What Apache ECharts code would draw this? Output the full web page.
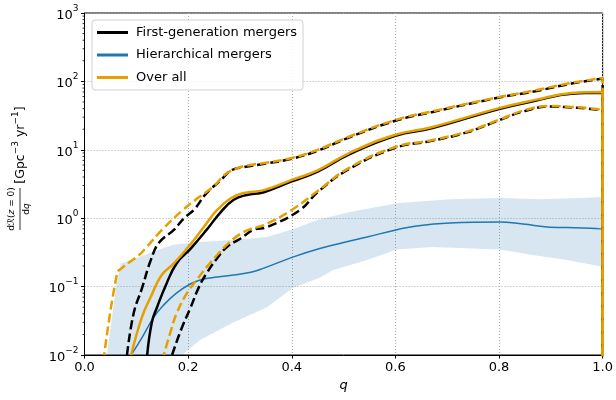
<!DOCTYPE html>
<html>
<head>
<meta charset="utf-8">
<script src="https://cdn.jsdelivr.net/npm/echarts@6/dist/echarts.min.js"></script>
<style>
  html, body { margin: 0; padding: 0; background: #fff; }
  #chart { width: 616px; height: 400px; }
</style>
</head>
<body>
<div id="chart"></div>
<script>
// Merger rate density per unit mass ratio q, dR(z=0)/dq in Gpc^-3 yr^-1.
// Each population: median curve plus 90% credible bounds.

// Rate drops to zero beyond q = 1 (below the log range).
const RATE_FLOOR = 1e-4;

// Over all: upper bound
const qOverallUpper = [0.038, 0.063, 0.072, 0.085, 0.105, 0.12, 0.15, 0.19, 0.22, 0.25, 0.27, 0.295, 0.32, 0.35, 0.40, 0.45, 0.51, 0.60, 0.67, 0.80, 0.87, 0.94, 1.0];
const overallUpper  = [0.010, 0.158, 0.186, 0.224, 0.288, 0.38, 0.68, 1.32, 2.0, 2.95, 4.27, 5.4, 6.0, 6.45, 7.6, 10.0, 15.5, 27.3, 36.3, 59, 74, 95, 112];

// Over all: median
const qOverallMedian = [0.090, 0.111, 0.128, 0.149, 0.173, 0.205, 0.230, 0.256, 0.283, 0.308, 0.346, 0.40, 0.45, 0.51, 0.60, 0.67, 0.80, 0.87, 0.94, 1.0];
const overallMedian  = [0.010, 0.036, 0.071, 0.148, 0.22, 0.42, 0.74, 1.32, 1.97, 2.34, 2.57, 3.63, 5.0, 8.9, 16.6, 21.4, 40.7, 53.7, 67.6, 70];

// Over all: lower bound
const qOverallLower = [0.153, 0.167, 0.178, 0.198, 0.217, 0.236, 0.256, 0.275, 0.298, 0.321, 0.346, 0.40, 0.45, 0.51, 0.60, 0.67, 0.74, 0.80, 0.85, 0.90, 0.94, 0.97, 1.0];
const overallLower  = [0.010, 0.023, 0.041, 0.081, 0.126, 0.194, 0.29, 0.41, 0.57, 0.70, 0.79, 1.32, 2.5, 5.4, 11.0, 13.8, 18.6, 27.5, 38, 43.7, 42.3, 40.7, 35.5];

// First-generation: upper bound
const qFirstUpper = [0.082, 0.095, 0.111, 0.128, 0.144, 0.173, 0.192, 0.211, 0.236, 0.263, 0.283, 0.308, 0.35, 0.40, 0.45, 0.51, 0.60, 0.67, 0.80, 0.87, 0.94, 1.0];
const firstUpper  = [0.010, 0.041, 0.095, 0.245, 0.44, 0.68, 1.0, 1.32, 2.35, 3.6, 5.0, 5.6, 6.3, 7.4, 9.7, 15.1, 26.6, 35.5, 58, 72, 93, 110];

// First-generation: median
const qFirstMedian = [0.121, 0.130, 0.140, 0.157, 0.178, 0.205, 0.236, 0.263, 0.288, 0.313, 0.346, 0.40, 0.45, 0.51, 0.60, 0.67, 0.80, 0.87, 0.94, 1.0];
const firstMedian  = [0.010, 0.030, 0.050, 0.105, 0.22, 0.36, 0.68, 1.23, 1.86, 2.19, 2.40, 3.45, 4.8, 8.5, 16.0, 20.6, 39.5, 52, 66, 68];

// First-generation: lower bound
const qFirstLower = [0.169, 0.186, 0.205, 0.221, 0.236, 0.256, 0.275, 0.302, 0.327, 0.352, 0.416, 0.45, 0.51, 0.60, 0.67, 0.74, 0.80, 0.85, 0.90, 0.94, 0.97, 1.0];
const firstLower  = [0.010, 0.023, 0.050, 0.099, 0.158, 0.26, 0.38, 0.51, 0.68, 0.74, 1.32, 2.4, 5.2, 10.7, 13.5, 18.2, 27, 37, 43, 41.5, 40, 35];

// Hierarchical: median
const qHierMedian = [0.090, 0.111, 0.134, 0.153, 0.178, 0.205, 0.225, 0.256, 0.288, 0.321, 0.346, 0.402, 0.454, 0.500, 0.545, 0.603, 0.641, 0.705, 0.801, 0.846, 0.898, 0.961, 1.0];
const hierMedian  = [0.010, 0.018, 0.036, 0.054, 0.081, 0.110, 0.126, 0.138, 0.148, 0.162, 0.186, 0.27, 0.36, 0.44, 0.53, 0.68, 0.77, 0.85, 0.88, 0.82, 0.74, 0.72, 0.68];

// Hierarchical: 90% band edges
const qHierUpper = [0.043, 0.061, 0.070, 0.082, 0.126, 0.171, 0.223, 0.286, 0.352, 0.402, 0.448, 0.512, 0.603, 0.705, 0.801, 0.878, 0.961, 1.0];
const hierUpper  = [0.010, 0.10, 0.22, 0.23, 0.31, 0.41, 0.45, 0.48, 0.53, 0.69, 0.93, 1.23, 1.66, 1.9, 1.97, 1.9, 1.97, 2.04];
const qHierLower = [0.043, 0.188, 0.223, 0.286, 0.352, 0.402, 0.454, 0.479, 0.545, 0.603, 0.672, 0.801, 0.865, 0.931, 1.0];
const hierLower  = [0.010, 0.010, 0.0166, 0.0295, 0.050, 0.095, 0.135, 0.174, 0.245, 0.35, 0.38, 0.35, 0.29, 0.245, 0.195];

// Axis ticks
const xTicks = [0, 0.2, 0.4, 0.6, 0.8, 1.0];
const yDecades = [-2, -1, 0, 1, 2, 3];

const legendNames = ['First-generation mergers', 'Hierarchical mergers', 'Over all'];

const BLACK = '#000000';
const BLUE = '#1f77b4';
const ORANGE = '#E69F00';
const FONT = 'DejaVu Sans';

function pairs(qs, vs, drop) {
  const out = qs.map((q, i) => [q, vs[i]]);
  if (drop) out.push([1.0, RATE_FLOOR]);
  return out;
}

// Minor log ticks: 2..9 times each decade
const minorTickValues = [];
for (let k = yDecades[0]; k < yDecades[yDecades.length - 1]; k++) {
  for (let m = 2; m <= 9; m++) minorTickValues.push([0, m * Math.pow(10, k)]);
}

const supMinus = (e) => (e < 0 ? '\u2212' + (-e) : String(e));

const lineBase = { type: 'line', showSymbol: false, symbol: 'none', smooth: 0.45, clip: true, silent: true };
const DASH = [9, 4];

const chart = echarts.init(document.getElementById('chart'), null, { renderer: 'canvas' });

const option = {
  animation: false,
  backgroundColor: '#fff',
  textStyle: { fontFamily: FONT },
  grid: { left: 84.5, right: 13, top: 13, bottom: 45, show: true, borderColor: '#000', borderWidth: 1, backgroundColor: 'transparent' },
  legend: {
    orient: 'vertical',
    left: 92, top: 20,
    z: 20,
    padding: [5, 6, 5, 5],
    itemWidth: 31, itemHeight: 3, itemGap: 7.5,
    backgroundColor: 'rgba(255,255,255,0.85)',
    borderColor: '#d0d0d0', borderWidth: 1, borderRadius: 3,
    selectedMode: false,
    textStyle: { fontFamily: FONT, fontSize: 13, color: '#000', lineHeight: 15, padding: [0, 0, 0, 3] },
    data: [
      { name: legendNames[0], icon: 'rect', itemStyle: { color: BLACK } },
      { name: legendNames[1], icon: 'rect', itemStyle: { color: BLUE } },
      { name: legendNames[2], icon: 'rect', itemStyle: { color: ORANGE } }
    ]
  },
  xAxis: {
    type: 'value', min: 0, max: 1, interval: 0.2,
    name: 'q', nameLocation: 'middle', nameGap: 22,
    nameTextStyle: { fontFamily: FONT, fontSize: 13, fontStyle: 'italic', color: '#000' },
    axisLine: { show: true, onZero: false, lineStyle: { color: '#000', width: 1 } },
    axisTick: { show: true, inside: false, length: 3.5, lineStyle: { color: '#000' } },
    axisLabel: { fontFamily: FONT, fontSize: 13, color: '#000', margin: 6, formatter: (v) => v.toFixed(1) },
    splitLine: { show: true, lineStyle: { color: '#aaaaaa', width: 1, type: [1, 2] } }
  },
  yAxis: {
    type: 'log', logBase: 10, min: 0.01, max: 1000, splitNumber: 5,
    axisLine: { show: true, lineStyle: { color: '#000', width: 1 } },
    axisTick: { show: true, inside: false, length: 3.5, lineStyle: { color: '#000' } },
    axisLabel: {
      margin: 6, color: '#000',
      formatter: (v) => '{b|10}{s|' + supMinus(Math.round(Math.log10(v))) + '}',
      rich: {
        b: { fontFamily: FONT, fontSize: 13, color: '#000', lineHeight: 18, verticalAlign: 'bottom' },
        s: { fontFamily: FONT, fontSize: 9, color: '#000', lineHeight: 12, verticalAlign: 'top' }
      }
    },
    splitLine: { show: true, lineStyle: { color: '#aaaaaa', width: 1, type: [1, 2] } }
  },
  graphic: [
    {
      type: 'group', x: 20, y: 170, rotation: Math.PI / 2, silent: true,
      children: [
        { type: 'text', x: 25, y: -1, style: {
            text: '{n|[Gpc}{s|\u22123}{n| yr}{s|\u22121}{n|]}', align: 'center', verticalAlign: 'middle',
            rich: {
              n: { fontFamily: FONT, fontSize: 12.5, color: '#000', lineHeight: 16, verticalAlign: 'bottom' },
              s: { fontFamily: FONT, fontSize: 9, color: '#000', lineHeight: 11, verticalAlign: 'top' }
            } } },
        { type: 'text', x: -39, y: -8, style: {
            text: '{n|d}{i|\u211B}{n|(}{i|z}{n| = 0)}', align: 'center', verticalAlign: 'middle',
            rich: {
              n: { fontFamily: FONT, fontSize: 9, color: '#000' },
              i: { fontFamily: FONT, fontSize: 9, color: '#000', fontStyle: 'italic' }
            } } },
        { type: 'line', shape: { x1: -60, y1: 0, x2: -18, y2: 0 }, style: { stroke: '#000', lineWidth: 0.8 } },
        { type: 'text', x: -39, y: 7, style: {
            text: '{n|d}{i|q}', align: 'center', verticalAlign: 'middle',
            rich: {
              n: { fontFamily: FONT, fontSize: 9, color: '#000' },
              i: { fontFamily: FONT, fontSize: 9, color: '#000', fontStyle: 'italic' }
            } } }
      ]
    }
  ],
  series: [
    {
      // 90% band of hierarchical mergers
      name: 'hier-band', type: 'custom', silent: true, z: 1,
      data: [[0.5, 1]],
      renderItem: (params, api) => {
        const pts = [];
        qHierUpper.forEach((q, i) => pts.push(api.coord([q, hierUpper[i]])));
        for (let i = qHierLower.length - 1; i >= 0; i--) pts.push(api.coord([qHierLower[i], hierLower[i]]));
        return { type: 'polygon', shape: { points: pts, smooth: 0 }, style: { fill: 'rgba(31,119,180,0.18)', stroke: null } };
      }
    },
    {
      name: 'minor-ticks', type: 'custom', silent: true, z: 5, clip: false,
      data: minorTickValues,
      renderItem: (params, api) => {
        const p = api.coord([api.value(0), api.value(1)]);
        return { type: 'line', shape: { x1: p[0] - 2, y1: p[1], x2: p[0], y2: p[1] }, style: { stroke: '#000', lineWidth: 0.8 } };
      }
    },
    Object.assign({}, lineBase, { name: legendNames[1], z: 2, color: BLUE, data: pairs(qHierMedian, hierMedian, true), lineStyle: { color: BLUE, width: 1.5 } }),
    Object.assign({}, lineBase, { name: 'first-upper', z: 3, color: BLACK, data: pairs(qFirstUpper, firstUpper, true), lineStyle: { color: BLACK, width: 2.5, type: DASH } }),
    Object.assign({}, lineBase, { name: 'first-lower', z: 3, color: BLACK, data: pairs(qFirstLower, firstLower, true), lineStyle: { color: BLACK, width: 2.5, type: DASH } }),
    Object.assign({}, lineBase, { name: legendNames[0], z: 3, color: BLACK, data: pairs(qFirstMedian, firstMedian, true), lineStyle: { color: BLACK, width: 2.5 } }),
    Object.assign({}, lineBase, { name: 'overall-upper', z: 4, color: ORANGE, data: pairs(qOverallUpper, overallUpper, true), lineStyle: { color: ORANGE, width: 2.5, type: DASH, dashOffset: 6 } }),
    Object.assign({}, lineBase, { name: 'overall-lower', z: 4, color: ORANGE, data: pairs(qOverallLower, overallLower, true), lineStyle: { color: ORANGE, width: 2.5, type: DASH, dashOffset: 6 } }),
    Object.assign({}, lineBase, { name: legendNames[2], z: 4, color: ORANGE, data: pairs(qOverallMedian, overallMedian, true), lineStyle: { color: ORANGE, width: 2.5 } })
  ]
};

chart.setOption(option);
</script>
</body>
</html>
